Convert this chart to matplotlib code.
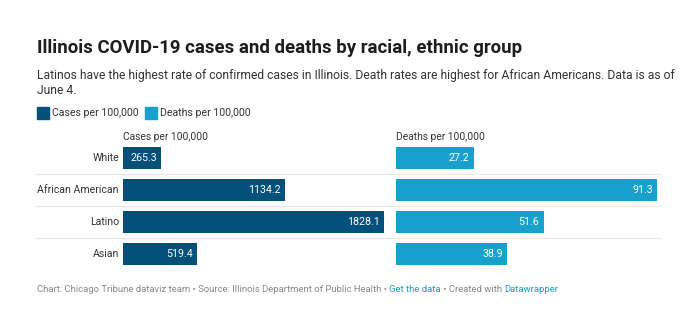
import matplotlib

matplotlib.use("Agg")

import matplotlib.pyplot as plt  # noqa: E402
from matplotlib.lines import Line2D  # noqa: E402

groups = ["White", "African American", "Latino", "Asian"]
cases = [265.3, 1134.2, 1828.1, 519.4]
deaths = [27.2, 91.3, 51.6, 38.9]

CASES_COLOR = "#03507a"
DEATHS_COLOR = "#18a1cd"
TEXT = "#1d1d1d"
TEXT_SUB = "#333333"
FOOT = "#888888"
LINK = "#1a9dc9"
GRID = "#e8e8e8"

W, H = 680, 324
plt.rcParams["font.family"] = ["Roboto", "DejaVu Sans"]

fig = plt.figure(figsize=(W / 100, H / 100), dpi=100)
fig.patch.set_facecolor("white")


def fx(x):
    return x / W


def fy(y):
    return 1 - y / H


def panel(x0, x1, values, color, header):
    top, bottom = 142, 270
    ax = fig.add_axes([fx(x0), fy(bottom), fx(x1 - x0), (bottom - top) / H])
    ax.set_xlim(0, max(values))
    ax.set_ylim(len(values) - 0.5, -0.5)
    ypos = list(range(len(values)))
    ax.barh(ypos, values, height=0.69, color=color, zorder=2)
    for y, v in zip(ypos, values):
        ax.annotate(
            f"{v:.1f}",
            (v, y),
            textcoords="offset points",
            xytext=(-3, 0),
            ha="right",
            va="center",
            fontsize=7.7,
            color="white",
        )
    ax.axis("off")
    fig.text(fx(x0), fy(137), header, fontsize=7.4, color=TEXT_SUB, va="center")
    return ax


# row separators span both panels
for y in [174, 206, 238]:
    fig.add_artist(
        Line2D([fx(36), fx(660)], [fy(y), fy(y)], color=GRID, linewidth=0.8)
    )

ax_cases = panel(123, 384, cases, CASES_COLOR, "Cases per 100,000")
panel(396, 657, deaths, DEATHS_COLOR, "Deaths per 100,000")

for i, g in enumerate(groups):
    fig.text(fx(119), fy(158 + 32 * i), g, ha="right", va="center",
             fontsize=7.6, color=TEXT_SUB)

fig.text(fx(37), fy(48), "Illinois COVID-19 cases and deaths by racial, ethnic group",
         fontsize=13.4, fontweight="bold", color=TEXT, va="center")
fig.text(fx(37), fy(76),
         "Latinos have the highest rate of confirmed cases in Illinois. Death rates "
         "are highest for African Americans. Data is as of",
         fontsize=8.7, color=TEXT_SUB, va="center")
fig.text(fx(37), fy(91), "June 4.", fontsize=8.7, color=TEXT_SUB, va="center")

# legend
for x, color, label in [(37, CASES_COLOR, "Cases per 100,000"),
                        (145, DEATHS_COLOR, "Deaths per 100,000")]:
    fig.add_artist(plt.Rectangle((fx(x), fy(119)), fx(12), 12 / H,
                                 color=color, transform=fig.transFigure))
    fig.text(fx(x + 15), fy(113), label, fontsize=7.6, color=TEXT_SUB, va="center")

# footer, link pieces in blue, chained one after another
pieces = [
    ("Get the data", LINK),
    (" \u2022 Created with ", FOOT),
    ("Datawrapper", LINK),
]
last = fig.text(fx(37), fy(289),
                "Chart: Chicago Tribune dataviz team \u2022 Source: Illinois "
                "Department of Public Health \u2022 ",
                fontsize=6.8, color=FOOT, va="center")
for text, color in pieces:
    last = ax_cases.annotate(text, xy=(1, 0), xycoords=last, va="bottom",
                             fontsize=6.8, color=color, annotation_clip=False)

fig.savefig("out.png", dpi=100, facecolor="white")
